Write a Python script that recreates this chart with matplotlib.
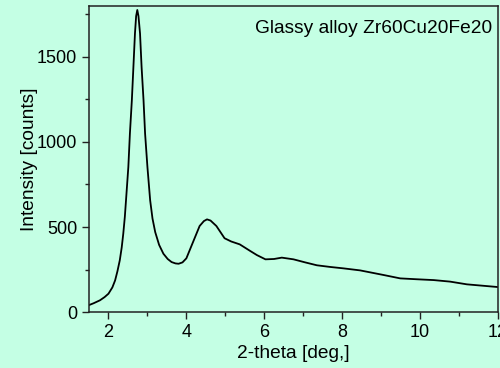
import matplotlib

matplotlib.use("Agg")
import matplotlib.pyplot as plt
from matplotlib.ticker import MultipleLocator

# XRD pattern
two_theta = [1.5, 1.62, 1.78, 1.9, 2.0, 2.1, 2.17, 2.23, 2.29, 2.34, 2.38, 2.42, 2.45,
             2.51, 2.55, 2.6, 2.64, 2.68, 2.71, 2.74, 2.77, 2.81, 2.85, 2.9, 2.94, 3.0,
             3.07, 3.13, 3.2, 3.3, 3.41, 3.52, 3.62, 3.72, 3.8, 3.9, 4.0, 4.15,
             4.34, 4.45, 4.53, 4.62, 4.77, 4.98, 5.15, 5.37, 5.64, 5.81, 6.03, 6.25, 6.45,
             6.75, 7.05, 7.35, 7.7, 8.03, 8.46, 8.75, 9.06, 9.49, 9.9, 10.35, 10.77, 11.2,
             11.6, 12.0]
intensity = [41, 52, 69, 88, 108, 145, 186, 240, 304, 380, 461, 560, 657,
             853, 1049, 1245, 1441, 1638, 1740, 1776, 1740, 1638, 1441, 1245, 1049, 853,
             657, 550, 470, 395, 343, 312, 294, 286, 284, 292, 316, 400,
             506, 535, 545, 538, 506, 434, 415, 398, 359, 335, 310, 312, 320,
             310, 292, 275, 265, 257, 245, 232, 218, 198, 193, 188, 179, 163,
             155, 147]

x_ticks = [2, 4, 6, 8, 10, 12]
y_ticks = [0, 500, 1000, 1500]
label_text = "Glassy alloy Zr60Cu20Fe20"

bg = "#C4FFE4"
plt.rcParams["font.family"] = ["Liberation Sans", "DejaVu Sans"]

fig = plt.figure(figsize=(5.0, 3.68), dpi=100, facecolor=bg)
ax = fig.add_axes([0.178, 0.152, 0.818, 0.832], facecolor=bg)

ax.plot(two_theta, intensity, color="black", linewidth=1.3)

ax.set_xlim(1.5, 12)
ax.set_ylim(0, 1800)
ax.set_xticks(x_ticks)
ax.set_yticks(y_ticks)
ax.xaxis.set_minor_locator(MultipleLocator(1))
ax.yaxis.set_minor_locator(MultipleLocator(250))
ax.tick_params(which="major", direction="out", length=5, width=1, labelsize=13,
               colors="#222222", labelcolor="black")
ax.tick_params(which="minor", direction="out", length=3, width=1, colors="#222222")
for s in ax.spines.values():
    s.set_color("#222222")
    s.set_linewidth(1.1)

ax.set_xlabel("2-theta [deg,]", fontsize=13.8, labelpad=3)
ax.set_ylabel("Intensity [counts]", fontsize=13.8, labelpad=-1)
ax.text(0.985, 0.955, label_text, transform=ax.transAxes, ha="right", va="top",
        fontsize=13.8)

fig.savefig("out.png", dpi=100, facecolor=bg)
